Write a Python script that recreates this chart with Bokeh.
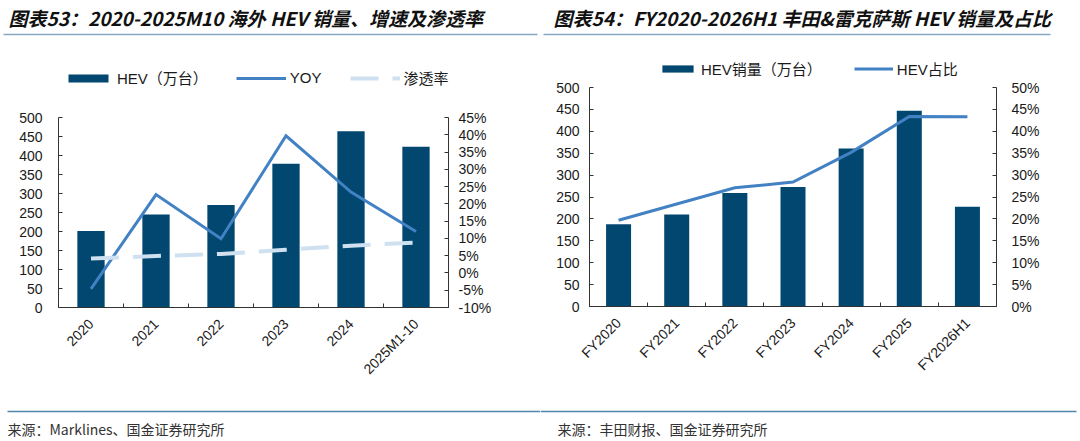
import numpy as np
from bokeh.plotting import figure
from bokeh.models import (Range1d, LinearAxis, FixedTicker, PrintfTickFormatter,
                          Legend, LegendItem, ColumnDataSource)
from bokeh.layouts import column, row
from bokeh.embed import file_html
from bokeh.resources import INLINE
from bokeh.core.properties import value

# ---------------- data ----------------
cats_l = ["2020", "2021", "2022", "2023", "2024", "2025M1-10"]
hev_l = [201, 245, 270, 378, 464, 423]          # 万台
yoy_l = [-4.6, 22.7, 9.9, 39.7, 23.4, 12.0]     # %
pen_l = [4.2, 4.9, 5.5, 6.7, 7.9, 8.8]          # %

cats_r = ["FY2020", "FY2021", "FY2022", "FY2023", "FY2024", "FY2025", "FY2026H1"]
hev_r = [188, 210, 259, 273, 361, 447, 228]     # 万台
share_r = [19.7, 23.4, 27.1, 28.4, 35.2, 43.4, 43.3]  # %

vol_ticks = list(range(0, 501, 50))
pct_ticks_l = list(range(-10, 46, 5))
pct_ticks_r = list(range(0, 51, 5))

title_l = "图表53：2020-2025M10 海外 HEV 销量、增速及渗透率"
title_r = "图表54：FY2020-2026H1 丰田&雷克萨斯 HEV 销量及占比"
src_l = "来源：Marklines、国金证券研究所"
src_r = "来源：丰田财报、国金证券研究所"

leg_l = ["HEV（万台）", "YOY", "渗透率"]
leg_r = ["HEV销量（万台）", "HEV占比"]

# ---------------- style ----------------
BAR = "#02476f"
LINE = "#4281c3"
DASH = "#cfe1f0"
AXC = "#333333"
TXT = "#1a1a1a"
FONT = "Liberation Sans, Noto Sans CJK SC"
CJK = "Noto Sans CJK SC"
W = 540


def style_axis(ax, tick_in=4):
    ax.axis_line_color = AXC
    ax.axis_line_width = 1
    ax.major_tick_line_color = AXC
    ax.major_tick_in = tick_in
    ax.major_tick_out = 0
    ax.minor_tick_line_color = None
    ax.major_label_text_font = FONT
    ax.major_label_text_font_size = "14px"
    ax.major_label_text_color = TXT


def chart(cats, pct_ticks, pct_range, height, borders, vstand, pstand):
    n = len(cats)
    xs = [i + 0.5 for i in range(n)]
    bl, br, bt, bb = borders
    p = figure(width=W, height=height, x_range=Range1d(0, n), y_range=Range1d(0, 500),
               output_backend="svg", toolbar_location=None,
               min_border_left=bl, min_border_right=br, min_border_top=bt, min_border_bottom=bb)
    p.outline_line_color = None
    p.xgrid.visible = False
    p.ygrid.visible = False
    p.extra_y_ranges = {"pct": Range1d(*pct_range)}

    xa = p.xaxis[0]
    style_axis(xa, tick_in=0)
    xa.ticker = FixedTicker(ticks=xs, minor_ticks=list(range(n + 1)))
    xa.major_label_overrides = {x: c for x, c in zip(xs, cats)}
    xa.minor_tick_line_color = AXC
    xa.minor_tick_in = 4
    xa.minor_tick_out = 0
    xa.major_label_orientation = np.pi / 4
    xa.major_label_standoff = 14

    ya = p.yaxis[0]
    style_axis(ya)
    ya.ticker = FixedTicker(ticks=vol_ticks)
    ya.major_label_standoff = vstand

    ra = LinearAxis(y_range_name="pct", ticker=FixedTicker(ticks=pct_ticks),
                    formatter=PrintfTickFormatter(format="%d%%"))
    style_axis(ra)
    ra.major_label_standoff = pstand
    p.add_layout(ra, "right")
    return p, xs


def band(h):
    f = figure(width=W, height=h, x_range=Range1d(0, W), y_range=Range1d(h, 0),
               x_axis_type=None, y_axis_type=None, output_backend="svg",
               toolbar_location=None, min_border=0)
    f.outline_line_color = None
    f.grid.visible = False
    return f


def legend(items, loc, gw, gh, spacing):
    return Legend(items=items, orientation="horizontal", location=loc,
                  glyph_width=gw, glyph_height=gh, label_standoff=4, spacing=spacing,
                  padding=0, margin=0, border_line_alpha=0, background_fill_alpha=0,
                  inactive_fill_alpha=0,
                  label_text_font=FONT, label_text_font_size="15px", label_text_color=TXT,
                  label_height=14)


# ---------------- left chart ----------------
pl, xl = chart(cats_l, pct_ticks_l, (-10, 45), 305, (58, 92, 22, 93), 16, 10)
sl = ColumnDataSource(dict(x=xl, hev=hev_l, yoy=yoy_l, pen=pen_l))
bar_l = dict(x="x", top="hev", width=0.42, fill_color=BAR, line_color=None)
yoy_s = dict(x="x", y="yoy", line_color=LINE, line_width=3, line_join="miter")
pen_s = dict(x="x", y="pen", line_color=DASH, line_width=4, line_dash="28 14")
pl.vbar(source=sl, **bar_l)
pl.line(source=sl, y_range_name="pct", **yoy_s)
pl.line(source=sl, y_range_name="pct", **pen_s)

hl = band(95)
hl.segment(x0=[3], x1=[537], y0=[34], y1=[34], line_color="#86a9c4", line_width=1.5)
hl.text(x=[8], y=[17], text=[title_l], text_font=value(CJK), text_font_size="19px",
        text_font_style="bold italic", text_baseline="middle", text_color="#111111")
# hidden twins of the series, used only to draw the legend swatches in the header band
kb = hl.vbar(source=sl, visible=False, **bar_l)
ky = hl.line(source=sl, visible=False, **yoy_s)
kp = hl.line(source=sl, visible=False, **pen_s)
hl.add_layout(legend([LegendItem(label=leg_l[0], renderers=[kb]),
                      LegendItem(label=leg_l[1], renderers=[ky]),
                      LegendItem(label=leg_l[2], renderers=[kp])],
                     (63, 7), 50, 10, 28), "center")

fl = band(41)
fl.segment(x0=[7], x1=[540], y0=[11], y1=[11], line_color="#4f86aa", line_width=1.5)
fl.text(x=[7], y=[28], text=[src_l], text_font=value(CJK), text_font_size="14px",
        text_baseline="middle", text_color="#333333")

# ---------------- right chart ----------------
pr, xr = chart(cats_r, pct_ticks_r, (0, 50), 321, (49, 84, 8, 94), 10, 15)
sr = ColumnDataSource(dict(x=xr, hev=hev_r, share=share_r))
bar_r = dict(x="x", top="hev", width=0.43, fill_color=BAR, line_color=None)
shr_s = dict(x="x", y="share", line_color=LINE, line_width=3, line_join="miter")
pr.vbar(source=sr, **bar_r)
pr.line(source=sr, y_range_name="pct", **shr_s)

hr = band(79)
hr.segment(x0=[3], x1=[510], y0=[34], y1=[34], line_color="#86a9c4", line_width=1.5)
hr.text(x=[13], y=[17], text=[title_r], text_font=value(CJK), text_font_size="19px",
        text_font_style="bold italic", text_baseline="middle", text_color="#111111")
rb = hr.vbar(source=sr, visible=False, **bar_r)
rs = hr.line(source=sr, visible=False, **shr_s)
hr.add_layout(legend([LegendItem(label=leg_r[0], renderers=[rb]),
                      LegendItem(label=leg_r[1], renderers=[rs])],
                     (118, 0), 39, 9, 32), "center")

fr = band(41)
fr.segment(x0=[0], x1=[536], y0=[11], y1=[11], line_color="#4f86aa", line_width=1.5)
fr.text(x=[17], y=[28], text=[src_r], text_font=value(CJK), text_font_size="14px",
        text_baseline="middle", text_color="#333333")

layout = row(column(hl, row(pl), fl), column(hr, row(pr), fr))

with open("out.html", "w") as fh:
    fh.write(file_html(layout, INLINE))
